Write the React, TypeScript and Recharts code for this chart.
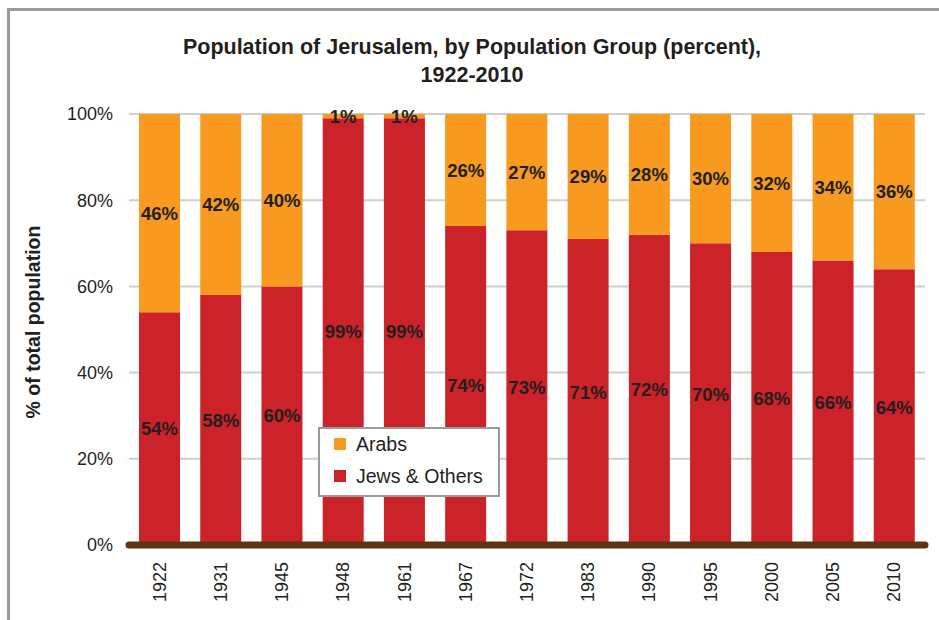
import React from 'react';
import { BarChart, Bar, XAxis, YAxis, CartesianGrid, LabelList, Legend } from 'recharts';

const years = ['1922', '1931', '1945', '1948', '1961', '1967', '1972', '1983', '1990', '1995', '2000', '2005', '2010'];
const jewsOthers = [54, 58, 60, 99, 99, 74, 73, 71, 72, 70, 68, 66, 64];
const arabs = [46, 42, 40, 1, 1, 26, 27, 29, 28, 30, 32, 34, 36];
const yTicks = [0, 20, 40, 60, 80, 100];

const data = years.map((y, i) => ({ year: y, jews: jewsOthers[i], arabs: arabs[i] }));

const ORANGE = '#f79a1f';
const RED = '#cc2229';
const TEXT = '#231f20';
const FONT = '"Liberation Sans", Arial, Helvetica, sans-serif';

const XTick = (props: any) => {
  const { x, y, payload } = props;
  const tx = x + 6;
  const ty = y + 15;
  return (
    <text x={tx} y={ty} transform={`rotate(-90, ${tx}, ${ty})`} textAnchor="end" fill={TEXT} fontSize={18} fontFamily={FONT}>
      {payload.value}
    </text>
  );
};

const LegendContent = () => (
  <div style={{ position: 'relative', border: '2px solid #9a9a9a', background: '#fff', width: 182, height: 70, boxSizing: 'border-box', fontFamily: FONT, fontSize: 19.5, color: TEXT }}>
    {[{ c: ORANGE, t: 'Arabs' }, { c: RED, t: 'Jews & Others' }].map((it, i) => (
      <div key={i} style={{ position: 'absolute', left: 14, top: 3 + i * 32, display: 'flex', alignItems: 'center', height: 24 }}>
        <span style={{ display: 'inline-block', width: 12, height: 12, background: it.c, marginRight: 10 }} />
        <span>{it.t}</span>
      </div>
    ))}
  </div>
);

export default function App() {
  return (
    <div style={{ position: 'absolute', left: 0, top: 0, width: 939, height: 620, background: '#fff', overflow: 'hidden' }}>
      <div style={{ position: 'absolute', left: 7, top: 8, width: 960, height: 640, borderTop: '3px solid #9a9a9a', borderLeft: '3px solid #9a9a9a' }} />
      <div style={{ position: 'absolute', left: 0, top: 33, width: 944, textAlign: 'center', fontFamily: FONT, fontWeight: 'bold', fontSize: 21.5, lineHeight: '28px', color: TEXT }}>
        Population of Jerusalem, by Population Group (percent),<br />1922-2010
      </div>
      <div style={{ position: 'absolute', left: 33, top: 322, width: 0, height: 0 }}>
        <div style={{ position: 'absolute', left: -150, top: -12, width: 300, textAlign: 'center', transform: 'rotate(-90deg)', fontFamily: FONT, fontWeight: 'bold', fontSize: 19.5, lineHeight: '24px', color: TEXT, whiteSpace: 'nowrap' }}>
          % of total population
        </div>
      </div>
      <BarChart width={939} height={620} data={data} margin={{ top: 114, right: 14, bottom: 15, left: 0 }} style={{ position: 'absolute', left: 0, top: 0 }}>
        <CartesianGrid horizontal vertical={false} stroke="#cfcfcf" strokeWidth={2} />
        <YAxis
          width={129}
          domain={[0, 100]}
          ticks={yTicks}
          tickFormatter={(v: number) => `${v}%`}
          axisLine={false}
          tickLine={false}
          tickSize={0}
          tickMargin={16}
          tick={{ fill: TEXT, fontSize: 18, fontFamily: FONT }}
          interval={0}
        />
        <XAxis
          dataKey="year"
          height={60}
          interval={0}
          tickLine={false}
          tickSize={0}
          axisLine={{ stroke: '#5e3513', strokeWidth: 7, strokeLinecap: 'round' }}
          tick={<XTick />}
        />
        <Legend
          layout="vertical"
          verticalAlign="middle"
          align="center"
          content={<LegendContent />}
          wrapperStyle={{ position: 'absolute', left: 318, top: 427, width: 182, height: 70 }}
        />
        <Bar dataKey="jews" name="Jews & Others" stackId="a" fill={RED} barSize={41} isAnimationActive={false}>
          <LabelList dataKey="jews" position="center" formatter={(v: any) => `${v}%`} fill={TEXT} fontSize={18.5} fontWeight="bold" fontFamily={FONT} />
        </Bar>
        <Bar dataKey="arabs" name="Arabs" stackId="a" fill={ORANGE} barSize={41} isAnimationActive={false}>
          <LabelList dataKey="arabs" position="center" formatter={(v: any) => `${v}%`} fill={TEXT} fontSize={18.5} fontWeight="bold" fontFamily={FONT} />
        </Bar>
      </BarChart>
    </div>
  );
}
